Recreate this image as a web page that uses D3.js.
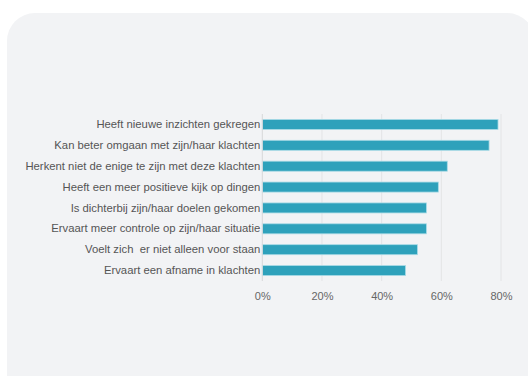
<!DOCTYPE html>
<html>
<head>
<meta charset="utf-8">
<script src="https://cdn.jsdelivr.net/npm/d3@7"></script>
<style>
  html, body { margin: 0; padding: 0; background: #ffffff; overflow: hidden; }
  svg { display: block; }
  text { font-family: "Liberation Sans", Arial, Helvetica, sans-serif; }
</style>
</head>
<body>
<svg id="chart" width="528" height="376"></svg>
<script>
// Outcomes reported, share of respondents (%)
const categories = [
  "Heeft nieuwe inzichten gekregen",
  "Kan beter omgaan met zijn/haar klachten",
  "Herkent niet de enige te zijn met deze klachten",
  "Heeft een meer positieve kijk op dingen",
  "Is dichterbij zijn/haar doelen gekomen",
  "Ervaart meer controle op zijn/haar situatie",
  "Voelt zich  er niet alleen voor staan",
  "Ervaart een afname in klachten"
];
const values = [79, 76, 62, 59, 55, 55, 52, 48];
const xTicks = [0, 20, 40, 60, 80];

const svg = d3.select("#chart");

// card background
svg.append("rect")
  .attr("x", 7).attr("y", 13)
  .attr("width", 528).attr("height", 400)
  .attr("rx", 28).attr("ry", 28)
  .attr("fill", "#f2f3f5");

const plotLeft = 262.3, plotTop = 114, plotBottom = 281;
const x = d3.scaleLinear().domain([0, 80]).range([plotLeft, 501]);
const y = d3.scaleBand().domain(categories).range([plotTop, plotBottom]).paddingInner(0.52).paddingOuter(0.26);

// vertical grid lines
svg.append("g")
  .selectAll("line")
  .data(xTicks.slice(1))
  .join("line")
  .attr("x1", d => x(d)).attr("x2", d => x(d))
  .attr("y1", plotTop).attr("y2", plotBottom)
  .attr("stroke", "#e3e4e6").attr("stroke-width", 1);

// bars
svg.append("g")
  .selectAll("rect")
  .data(values)
  .join("rect")
  .attr("x", x(0))
  .attr("y", (d, i) => y(categories[i]))
  .attr("width", d => x(d) - x(0))
  .attr("height", y.bandwidth())
  .attr("fill", "#2ea1bb")
  .attr("stroke", "#a9dbe6")
  .attr("stroke-width", 0.8);

// baseline
svg.append("line")
  .attr("x1", x(0)).attr("x2", x(0))
  .attr("y1", plotTop).attr("y2", plotBottom)
  .attr("stroke", "#d6d7d9").attr("stroke-width", 1);

// category labels
const yAxis = d3.axisLeft(y).tickSize(0).tickPadding(2);
const gy = svg.append("g").attr("transform", `translate(${x(0)},0)`).call(yAxis);
gy.select(".domain").remove();
gy.selectAll("text")
  .attr("fill", "#555555")
  .style("font-size", "11.3px")
  .style("white-space", "pre");

// percentage axis
const xAxis = d3.axisBottom(x).tickValues(xTicks).tickSize(0).tickPadding(11)
  .tickFormat(d => d + "%");
const gx = svg.append("g").attr("transform", `translate(0,${plotBottom})`).call(xAxis);
gx.select(".domain").remove();
gx.selectAll("text")
  .attr("fill", "#666666")
  .style("font-size", "11px");
</script>
</body>
</html>
